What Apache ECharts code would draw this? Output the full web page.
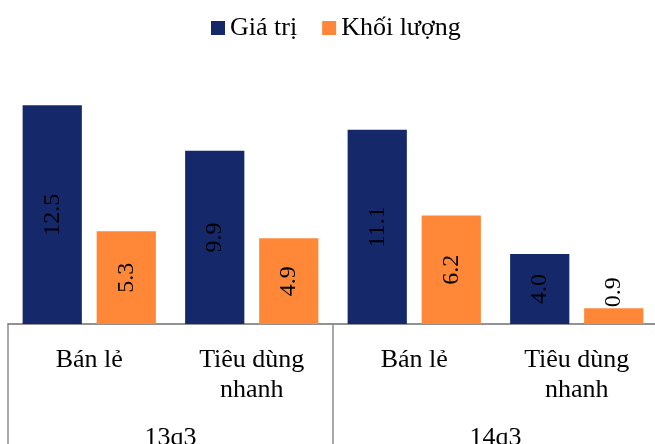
<!DOCTYPE html>
<html lang="vi">
<head>
    <meta charset="utf-8">
    <title>chart</title>
    <script src="https://cdn.jsdelivr.net/npm/echarts@6/dist/echarts.min.js"></script>
    <style>
        html, body { margin: 0; padding: 0; background: #fff; }
        #container { width: 655px; height: 444px; }
    </style>
</head>
<body>
<div id="container"></div>
<script>
    const categories = ["Bán lẻ", "Tiêu dùng\nnhanh", "Bán lẻ", "Tiêu dùng\nnhanh"];
    const periods = ["13q3", "14q3"];
    const giaTri = [12.5, 9.9, 11.1, 4.0];
    const khoiLuong = [5.3, 4.9, 6.2, 0.9];

    const font = "Liberation Serif";
    const navy = "#14286a";
    const orange = "#fe8838";

    const labelInside = {
        show: true,
        position: "inside",
        rotate: 90,
        fontFamily: font,
        fontSize: 24,
        color: "#000",
        formatter: p => p.value.toFixed(1)
    };

    // small bars get their label above the bar
    function withLabels(values) {
        return values.map(v => {
            if (v >= 2) return v;
            return {
                value: v,
                label: { position: "top", align: "left", verticalAlign: "middle", distance: 1 }
            };
        });
    }

    const option = {
        animation: false,
        legend: {
            top: 10,
            left: 206,
            itemWidth: 14,
            itemHeight: 14,
            itemGap: 25,
            icon: "rect",
            textStyle: { fontFamily: font, fontSize: 26, color: "#000" },
            data: ["Giá trị", "Khối lượng"]
        },
        grid: { left: 8, width: 650, top: 79, bottom: 120, containLabel: false, outerBoundsMode: "none" },
        xAxis: [
            {
                type: "category",
                data: categories,
                axisLine: { lineStyle: { color: "#8c8c8c", width: 1.5 } },
                axisTick: { show: false },
                axisLabel: {
                    interval: 0,
                    margin: 21,
                    fontFamily: font,
                    fontSize: 26,
                    lineHeight: 30,
                    color: "#000"
                }
            },
            {
                type: "category",
                data: periods,
                position: "bottom",
                axisLine: { lineStyle: { color: "#8c8c8c", width: 1.5 } },
                axisTick: { show: true, length: 120, interval: 0, lineStyle: { color: "#8c8c8c", width: 1.5 } },
                axisLabel: {
                    interval: 0,
                    margin: 101,
                    fontFamily: font,
                    fontSize: 26,
                    color: "#000"
                }
            }
        ],
        yAxis: {
            type: "value",
            min: 0,
            max: 14,
            show: false,
            splitLine: { show: false }
        },
        series: [
            {
                name: "Giá trị",
                type: "bar",
                xAxisIndex: 0,
                data: withLabels(giaTri),
                barGap: "25%",
                barCategoryGap: "18%",
                itemStyle: { color: navy },
                label: labelInside
            },
            {
                name: "Khối lượng",
                type: "bar",
                xAxisIndex: 0,
                data: withLabels(khoiLuong),
                barGap: "25%",
                barCategoryGap: "18%",
                itemStyle: { color: orange },
                label: labelInside
            }
        ]
    };

    const chart = echarts.init(document.getElementById("container"));
    chart.setOption(option);
</script>
</body>
</html>
